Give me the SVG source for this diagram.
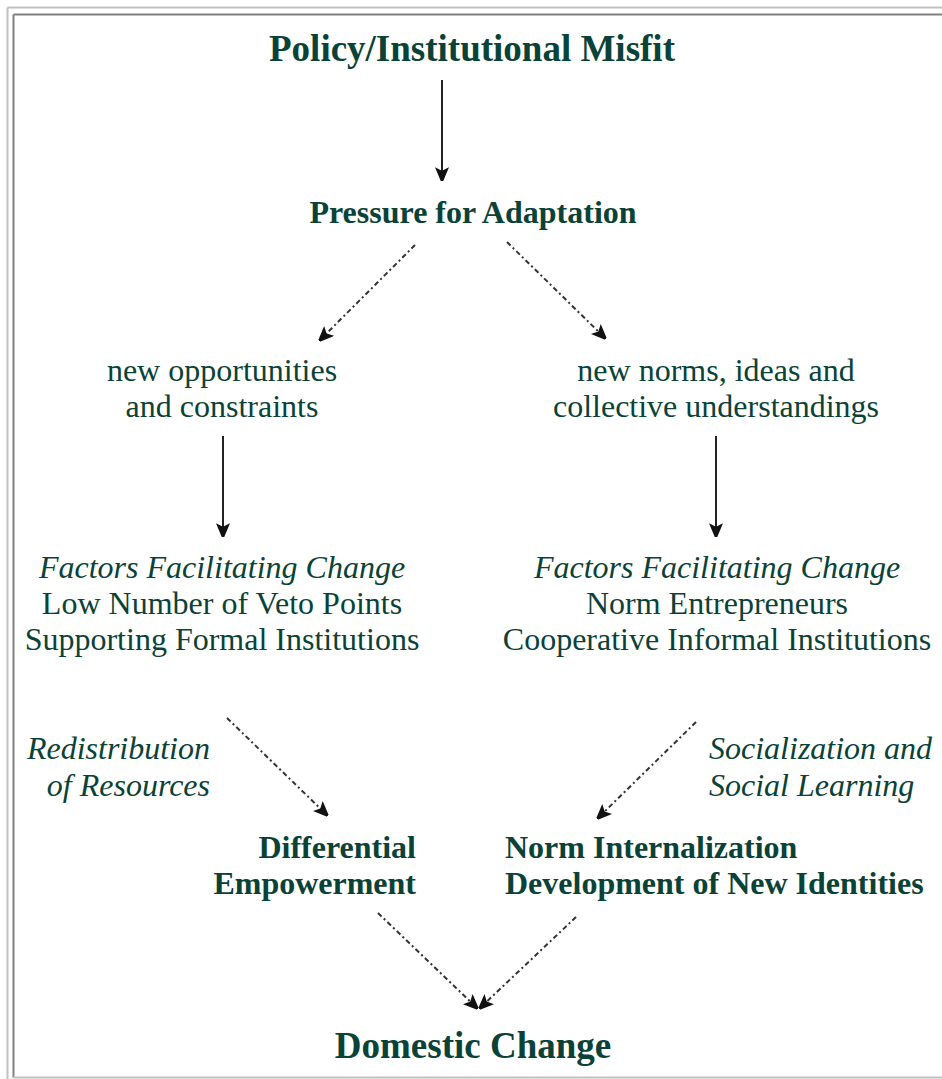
<svg xmlns="http://www.w3.org/2000/svg" width="942" height="1079" viewBox="0 0 942 1079">
<style>
text{font-family:"Liberation Serif","Times New Roman",serif;fill:#0a4238;font-size:32px}
.b{font-weight:bold}
.i{font-style:italic}
.big{font-size:37px}
.m{text-anchor:middle}
.e{text-anchor:end}
.solid{stroke:#222;stroke-width:2;fill:none}
.dot{stroke:#333;stroke-width:2;fill:none;stroke-dasharray:5,3,2,3}
</style>
<defs>
<marker id="ah" viewBox="0 0 12 12" refX="11" refY="6" markerWidth="14" markerHeight="14" markerUnits="userSpaceOnUse" orient="auto">
<path d="M0,0 L12,5 L12,7 L0,12 L3,6 Z" fill="#111"/>
</marker>
</defs>
<rect x="0" y="0" width="942" height="1079" fill="#fff"/>
<g id="frame">
<line x1="7.5" y1="7.5" x2="942" y2="7.5" stroke="#c0c0c0" stroke-width="2"/>
<line x1="7.5" y1="7.5" x2="7.5" y2="1079" stroke="#c0c0c0" stroke-width="2"/>
<line x1="13.5" y1="14.5" x2="942" y2="14.5" stroke="#808080" stroke-width="2"/>
<line x1="13.5" y1="14.5" x2="13.5" y2="1078" stroke="#808080" stroke-width="2"/>
<line x1="13" y1="1077.5" x2="942" y2="1077.5" stroke="#c0c0c0" stroke-width="2"/>
</g>
<g id="connectors">
<line class="solid" x1="442" y1="80" x2="442" y2="180" marker-end="url(#ah)"/>
<line class="dot" x1="415" y1="245" x2="320" y2="340" marker-end="url(#ah)"/>
<line class="dot" x1="507" y1="242" x2="605" y2="338" marker-end="url(#ah)"/>
<line class="solid" x1="223" y1="436" x2="223" y2="536" marker-end="url(#ah)"/>
<line class="solid" x1="716" y1="436" x2="716" y2="536" marker-end="url(#ah)"/>
<line class="dot" x1="227" y1="718" x2="327" y2="815" marker-end="url(#ah)"/>
<line class="dot" x1="696" y1="722" x2="598" y2="818" marker-end="url(#ah)"/>
<line class="dot" x1="378" y1="913" x2="477" y2="1008" marker-end="url(#ah)"/>
<line class="dot" x1="576" y1="917" x2="480" y2="1008" marker-end="url(#ah)"/>
</g>
<g id="misfit"><text class="b big m" x="472" y="61">Policy/Institutional Misfit</text></g>
<g id="pressure"><text class="b m" x="473" y="223">Pressure for Adaptation</text></g>
<g id="opportunities"><text class="m" x="222" y="381">new opportunities</text><text class="m" x="222" y="417">and constraints</text></g>
<g id="norms"><text class="m" x="716" y="381">new norms, ideas and</text><text class="m" x="716" y="417">collective understandings</text></g>
<g id="factors-left"><text class="i m" x="222" y="578">Factors Facilitating Change</text><text class="m" x="222" y="614">Low Number of Veto Points</text><text class="m" x="222" y="650">Supporting Formal Institutions</text></g>
<g id="factors-right"><text class="i m" x="717" y="578">Factors Facilitating Change</text><text class="m" x="717" y="614">Norm Entrepreneurs</text><text class="m" x="717" y="650">Cooperative Informal Institutions</text></g>
<g id="redistribution"><text class="i e" x="210" y="759">Redistribution</text><text class="i e" x="210" y="796">of Resources</text></g>
<g id="socialization"><text class="i" x="709" y="759">Socialization and</text><text class="i" x="709" y="796">Social Learning</text></g>
<g id="differential"><text class="b e" x="416" y="858">Differential</text><text class="b e" x="416" y="894">Empowerment</text></g>
<g id="internalization"><text class="b" x="505" y="858">Norm Internalization</text><text class="b" x="505" y="894">Development of New Identities</text></g>
<g id="domestic"><text class="b big m" x="473" y="1058">Domestic Change</text></g>
</svg>
